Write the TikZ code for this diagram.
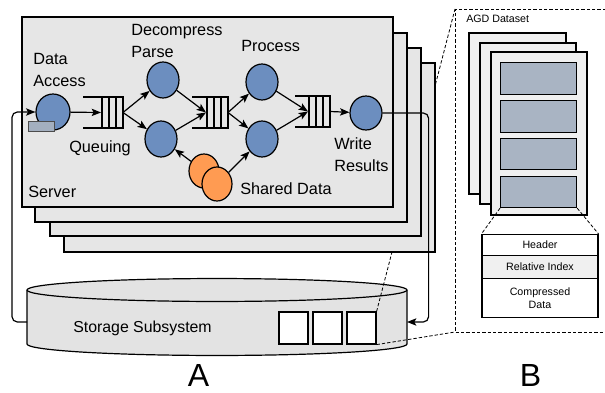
\documentclass[tikz,border=0pt]{standalone}
\usepackage{fontspec}
\setmainfont{Liberation Sans}
\usetikzlibrary{arrows.meta,shapes.geometric}
\definecolor{srvfill}{HTML}{E6E6E6}
\definecolor{nodeblue}{HTML}{6C8EBF}
\definecolor{sharedorange}{HTML}{FF9B52}
\definecolor{tagfill}{HTML}{A3AFBF}
\definecolor{pagefill}{HTML}{F0F0F0}
\definecolor{blockfill}{HTML}{A9B4C3}
\definecolor{cylfill}{HTML}{E3E3E3}
% queue: name, left x, right x, centre y
\newcommand\qdraw[4]{%
  \coordinate (#1in) at (#3-22,#4);
  \coordinate (#1out) at (#3,#4);
  \draw[qline] (#2,#4-15.5) -- (#3,#4-15.5) -- (#3,#4+15.5) -- (#2,#4+15.5);
  \foreach \dd in {7,14,21} \draw[qline] (#3-\dd,#4-15.5) -- (#3-\dd,#4+15.5);
}
\begin{document}
\begin{tikzpicture}[x=0.75pt,y=-0.75pt,
  server/.style={draw, fill=srvfill, line width=0.9pt},
  proc/.style={ellipse, draw, fill=nodeblue, line width=0.9pt, minimum width=24pt, minimum height=27pt, inner sep=0pt},
  shared/.style={ellipse, draw, fill=sharedorange, line width=0.9pt, minimum width=22.5pt, minimum height=25.5pt, inner sep=0pt},
  qline/.style={line width=0.9pt},
  arr/.style={line width=0.9pt, -{Stealth[length=7pt,width=5.5pt,inset=1.5pt]}},
  lbl/.style={font=\fontsize{12.2}{16.5}\selectfont, inner sep=0pt, align=left},
  small/.style={font=\fontsize{8}{10}\selectfont},
  dashedline/.style={line width=0.6pt, dash pattern=on 2.5pt off 1.5pt},
  page/.style={draw, fill=pagefill, line width=0.9pt},
  blk/.style={draw, fill=blockfill, line width=0.9pt, minimum width=57pt, inner sep=0pt},
  sq/.style={draw, fill=white, line width=0.9pt, minimum width=21.75pt, minimum height=24pt, inner sep=0pt},
  cell/.style={draw, line width=0.9pt, minimum width=87pt, inner sep=0pt, anchor=north, small, align=center},
  big/.style={font=\fontsize{24}{28}\selectfont, inner sep=0pt, anchor=base}
]
\useasboundingbox (0,0) rectangle (605,392);

% ---------- storage cylinder ----------
\filldraw[fill=cylfill, line width=0.9pt] (27,290) -- (27,344)
  arc[start angle=180, end angle=360, x radius=142.5pt, y radius=8.6pt]
  -- (407,290)
  arc[start angle=0, end angle=180, x radius=142.5pt, y radius=8.6pt] -- cycle;
\draw[line width=0.9pt] (27,290) arc[start angle=180, end angle=360, x radius=142.5pt, y radius=8.6pt];
\node[lbl, font=\fontsize{11.9}{16}\selectfont, anchor=base west] (stlabel) at (73,332) {Storage Subsystem};
\node[sq] (sq1) at (293.5,328) {};
\node[sq] (sq2) at (327.5,328) {};
\node[sq] (sq3) at (361.5,328) {};
\coordinate (stL) at (27,322);
\coordinate (stR) at (407,322);

% ---------- AGD dataset frame and zoom lines ----------
\coordinate (agdtl) at (455,9);
\coordinate (agdbl) at (455,332);
\draw[dashedline] (sq3.north east) -- (agdtl);
\draw[dashedline] (sq3.south east) -- (agdbl);
\draw[dashedline] (606,9) -- (agdtl) -- (agdbl) -- (606,332);
\node[small, anchor=base west, inner sep=0pt] (agdlabel) at (466,23) {AGD Dataset};

% pages
\draw[page] (469,33) rectangle (566,194);
\draw[page] (480,43) rectangle (576,204);
\draw[page] (491,52) rectangle (587,215);
\node[blk, minimum height=24pt, anchor=north west] (blk1) at (500,62) {};
\node[blk, minimum height=24pt, anchor=north west] (blk2) at (500,100) {};
\node[blk, minimum height=23.25pt, anchor=north west] (blk3) at (500,138) {};
\node[blk, minimum height=23.25pt, anchor=north west] (blk4) at (500,176) {};

% table
\node[cell, minimum height=15.75pt] (hdr) at (540,234) {Header};
\node[cell, minimum height=17.25pt, fill=pagefill] (rel) at (540,255) {Relative Index};
\node[cell, minimum height=29.25pt] (cmp) at (540,278) {Compressed\\Data};
\draw[dashedline] (blk4.south west) -- (hdr.north west);
\draw[dashedline] (blk4.south east) -- (hdr.north east);

% ---------- server stack ----------
\draw[server] (64,63) rectangle (435,252);
\draw[server] (50,48) rectangle (421,236);
\draw[server] (35,33) rectangle (407,222);
\draw[server] (22,17) rectangle (393,207);

% labels
\node[lbl, anchor=north west] (ldata) at (33,53) {Data\\Access};
\node[lbl, anchor=north west] (ldec) at (131,24) {Decompress\\Parse};
\node[lbl, anchor=base west] (lqueue) at (69,152) {Queuing};
\node[lbl, anchor=base west] (lserver) at (28,197) {Server};
\node[lbl, anchor=base west] (lproc) at (241,52) {Process};
\node[lbl, anchor=north west] (lwrite) at (334,137) {Write\\Results};
\node[lbl, anchor=base west] (lshared) at (240,194) {Shared Data};

% nodes
\node[proc, minimum width=25.5pt] (da) at (53,112) {};
\node[draw=black!70, fill=tagfill, line width=0.6pt, minimum width=20pt, minimum height=8pt, inner sep=0pt] (tag) at (41.5,126.5) {};
\node[proc] (dp1) at (163,80) {};
\node[proc] (dp2) at (161,139) {};
\node[proc] (pr1) at (262,82) {};
\node[proc] (pr2) at (262,139) {};
\node[proc, minimum height=25.5pt] (wr) at (366,113) {};
\node[shared] (sd1) at (204,171) {};
\node[shared] (sd2) at (217,184) {};

% queues
\qdraw{q1}{83}{123}{112.5}
\qdraw{q2}{192}{228}{112.5}
\qdraw{q3}{295}{330}{111.5}

% arrows
\draw[arr] (da) -- (q1in);
\draw[arr] (q1out) -- (dp1);
\draw[arr] (q1out) -- (dp2);
\draw[arr] (dp1) -- (q2in);
\draw[arr] (dp2) -- (q2in);
\draw[arr] (q2out) -- (pr1);
\draw[arr] (q2out) -- (pr2);
\draw[arr] (pr1) -- (q3in);
\draw[arr] (pr2) -- (q3in);
\draw[arr] (q3out) -- (wr);
\draw[arr] (sd1) -- (dp2);
\draw[arr] (sd2) -- (pr2);

% storage connectors
\draw[arr, rounded corners=4pt] (stL) -- ++(-15,0) |- (da.west);
\draw[arr, rounded corners=4pt] (wr.east) -- ++(46,0) |- (stR);

% panel letters
\node[big] (la) at (198.5,386) {A};
\node[big] (lb) at (530.5,386) {B};
\end{tikzpicture}
\end{document}
